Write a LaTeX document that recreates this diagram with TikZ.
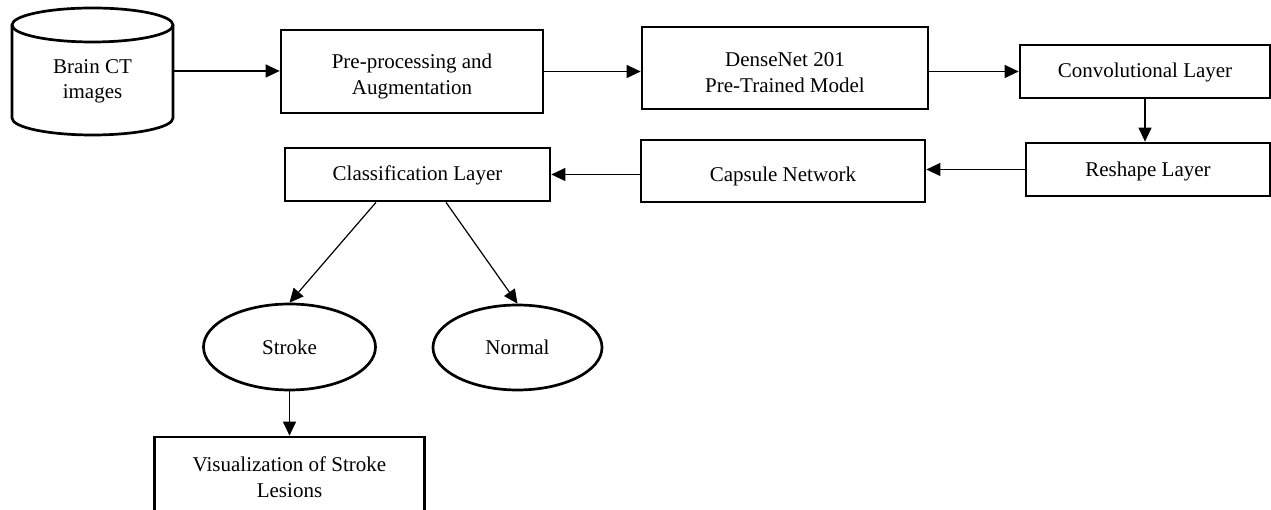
\documentclass[tikz,border=0pt]{standalone}
\usepackage{fontspec}
\setmainfont{Liberation Serif}
\usetikzlibrary{arrows.meta,shapes.geometric}
\begin{document}
\begin{tikzpicture}[x=1pt,y=1pt,
  box/.style={draw,line width=2.7pt,rectangle,align=center,inner sep=0pt,
    font=\fontsize{21}{26}\selectfont},
  oval/.style={draw,line width=2.7pt,ellipse,inner sep=0pt,
    font=\fontsize{21}{26}\selectfont},
  lbl/.style={align=center,inner sep=0pt,font=\fontsize{21}{26}\selectfont},
  arr/.style={line width=1.2pt,-{Triangle[length=14pt,width=13pt]}}]
\useasboundingbox (0,0) rectangle (1271,510);
\fill[white] (0,0) rectangle (1271,510);

% database cylinder
\draw[line width=2.7pt] (12,485) -- (12,392)
  arc[start angle=180,end angle=360,x radius=80.5,y radius=17] -- (173,485);
\draw[line width=2.7pt] (92.5,485) ellipse[x radius=80.5,y radius=17];
\node[minimum width=161pt,minimum height=90pt,inner sep=0pt] (db) at (92.5,439) {};
\node[lbl,font=\fontsize{21}{25}\selectfont] (dbtext) at (92.5,429) {Brain CT\\images};

% processing boxes
\node[box,minimum width=262pt,minimum height=83pt,
  label={[lbl,yshift=-5pt]center:Pre-processing and\\Augmentation}] (prep) at (412,438.5) {};
\node[box,minimum width=286pt,minimum height=82pt,
  label={[lbl,yshift=-5pt]center:DenseNet 201\\Pre-Trained Model}] (dense) at (785,442) {};
\node[box,minimum width=250pt,minimum height=53pt,
  label={[lbl,yshift=-1pt]center:Convolutional Layer}] (conv) at (1145,438.5) {};
\node[box,minimum width=244pt,minimum height=53pt,
  label={[lbl,yshift=-2pt]center:Reshape Layer}] (reshape) at (1148,340.5) {};
\node[box,minimum width=284pt,minimum height=62pt,
  label={[lbl,yshift=-5pt]center:Capsule Network}] (capsule) at (783,339) {};
\node[box,minimum width=265pt,minimum height=53pt,
  label={[lbl,yshift=-1pt]center:Classification Layer}] (classif) at (417.5,335.5) {};

% outcomes
\node[oval,minimum width=172pt,minimum height=86pt] (stroke) at (289.5,163) {Stroke};
\node[oval,minimum width=169pt,minimum height=85pt] (normal) at (517.5,162.5) {Normal};
\node[box,minimum width=270pt,minimum height=80pt] (vis) at (289.5,33)
  {Visualization of Stroke\\Lesions};

% connectors
\draw[arr] (db.east) -- (db.east -| prep.west);
\draw[arr] (prep.east) -- (prep.east -| dense.west);
\draw[arr] (dense.east |- conv.west) -- (conv.west);
\draw[arr] (conv.south) -- (conv.south |- reshape.north);
\draw[arr] (reshape.west) -- (reshape.west -| capsule.east);
\draw[arr] (classif.east -| capsule.west) -- (classif.east);
\draw[arr] ([xshift=-41.5pt]classif.south) -- (stroke.north);
\draw[arr] ([xshift=28.5pt]classif.south) -- (normal.north);
\draw[arr] (stroke.south) -- (vis.north);
\end{tikzpicture}
\end{document}
